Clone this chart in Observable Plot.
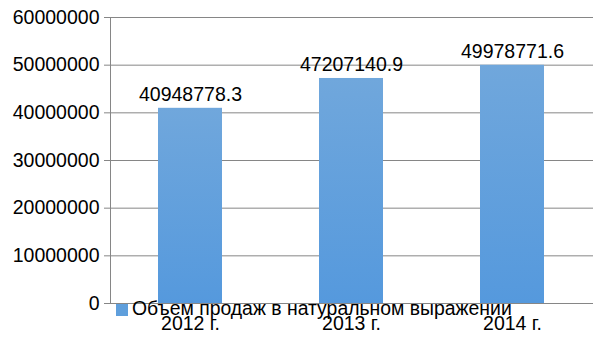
<!DOCTYPE html>
<html>
<head>
<meta charset="utf-8">
<script src="https://cdn.jsdelivr.net/npm/d3@7"></script>
<script src="https://cdn.jsdelivr.net/npm/@observablehq/plot@0.6"></script>
<style>
  html, body { margin: 0; padding: 0; background: #fff; }
  #wrap { position: relative; width: 605px; height: 340px; font-family: "Liberation Sans", Arial, sans-serif; }
  #legend { position: absolute; left: 116px; top: 297px; display: flex; align-items: center; font-size: 19.4px; color: #000; white-space: nowrap; }
  #legend .sw { width: 12px; height: 12px; background: #5f9fdc; margin-right: 4px; margin-top: 2px; }
</style>
</head>
<body>
<div id="wrap"></div>
<script>
const years = ["2012 г.", "2013 г.", "2014 г."];
const values = [40948778.3, 47207140.9, 49978771.6];
const yTicks = [0, 10000000, 20000000, 30000000, 40000000, 50000000, 60000000];
const seriesName = "Объем продаж в натуральном выражении";

const data = years.map((y, i) => ({year: y, value: values[i]}));
const grid = "#868686";

const gradDefs = () => {
  const defs = d3.create("svg:defs");
  const g = defs.append("linearGradient").attr("id", "barGrad").attr("x1", 0).attr("y1", 0).attr("x2", 0).attr("y2", 1);
  g.append("stop").attr("offset", "0%").attr("stop-color", "#70a7dc");
  g.append("stop").attr("offset", "100%").attr("stop-color", "#5599dd");
  return defs.node();
};

const chart = Plot.plot({
  width: 605,
  height: 340,
  marginLeft: 110,
  marginRight: 12,
  marginTop: 17,
  marginBottom: 37,
  style: {fontFamily: "'Liberation Sans', Arial, sans-serif", fontSize: "19.5px", color: "#000", background: "#fff"},
  x: {domain: years, paddingInner: 0.6, paddingOuter: 0.3, label: null},
  y: {domain: [0, 60000000], label: null},
  marks: [
    gradDefs,
    Plot.gridY(yTicks, {stroke: grid, strokeOpacity: 1}),
    Plot.axisY(yTicks, {tickSize: 6, tickPadding: 5, stroke: grid, tickFormat: d => String(d), fontSize: 19.5, fill: "#000"}),
    Plot.axisX({tickSize: 0, tickPadding: 13, fontSize: 19.5, fill: "#000"}),
    Plot.frame({anchor: "left", stroke: grid}),
    Plot.barY(data, {x: "year", y: "value", fill: "url(#barGrad)"}),
    Plot.ruleY([0], {stroke: grid}),
    Plot.text(data, {x: "year", y: "value", text: d => String(d.value), dy: -7, lineAnchor: "bottom", fontSize: 19.5, fill: "#000"})
  ]
});

const wrap = document.getElementById("wrap");
wrap.appendChild(chart);
const legend = document.createElement("div");
legend.id = "legend";
legend.innerHTML = `<div class="sw"></div><span></span>`;
legend.querySelector("span").textContent = seriesName;
wrap.appendChild(legend);
</script>
</body>
</html>
